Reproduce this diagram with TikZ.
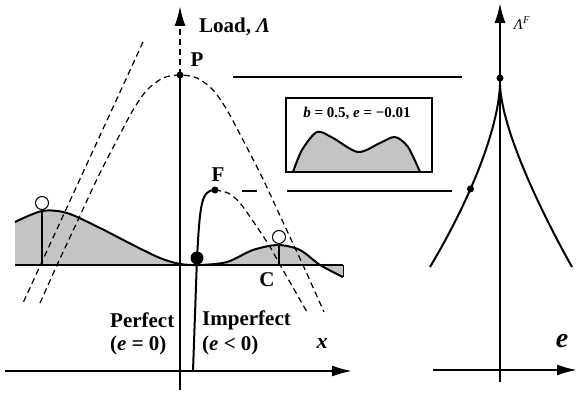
\documentclass[tikz,border=0pt]{standalone}
\usepackage{fontspec}
\setmainfont{Liberation Serif}
\usetikzlibrary{arrows.meta}

\tikzset{
  axis/.style={line width=2pt, -{Latex[length=20pt,width=11pt]}},
  curve/.style={line width=2pt},
  guide/.style={line width=1.2pt, dash pattern=on 6pt off 4pt},
  ball/.style={circle, draw, line width=1pt, fill=white, minimum size=13pt, inner sep=0pt},
  dot/.style={circle, fill, minimum size=7pt, inner sep=0pt},
  lbl/.style={font=\fontsize{21}{25}\selectfont\bfseries, inner sep=0pt},
}

\begin{document}
\begin{tikzpicture}[x=1pt, y=-1pt]
  \useasboundingbox (0,0) rectangle (578,393);
  \fill[black!23] (15,265) -- plot[smooth] coordinates {(15,222) (42,211) (67,213) (100,228) (133,245) (160,258) (180,264) (200,265) (227,262) (253,250) (278,245) (300,250) (320,265) (343,277)} -- (343,265) -- cycle;
  \draw[curve] plot[smooth] coordinates {(15,222) (42,211) (67,213) (100,228) (133,245) (160,258) (180,264) (200,265) (227,262) (253,250) (278,245) (300,250) (320,265) (343,277)};
  \draw[curve] (15,265) -- (343,265);
  \draw[line width=1pt] (343,265) -- (343,277);
  \node[ball] (ballL) at (42,203) {};
  \node[ball] (ballC) at (279,237) {};
  \draw[curve] (ballL.south) -- (42,265);
  \draw[curve] (ballC.south) -- (279,265);

  \draw[guide] (143,42) -- (23,303);
  \draw[guide] plot[smooth] coordinates {(40,303) (58,263) (78,220) (98,177) (117,140) (133,110) (147,90) (163,78) (180,75) (197,78) (213,90) (227,110) (243,140) (262,177) (282,220) (302,263) (324,312)};
  \draw[guide] plot[smooth] coordinates {(215,190) (228,193) (240,203) (257,227) (270,247) (283,270) (307,312)};

  \draw[curve] (180,390) -- (180,75);
  \draw[axis, dash pattern=on 6pt off 4pt] (180,75) -- (180,6);
  \draw[axis] (5,371) -- (352,371);
  \draw[curve] (193,371) -- (197,258) .. controls (200,205) and (201,190) .. (215,190);
  \node[circle, fill, minimum size=13pt, inner sep=0pt] (eq) at (197,258) {};
  \node[dot] (P) at (180,75) {};
  \node[dot] (F) at (215,190) {};

  \draw[line width=1.3pt] (233,77) -- (462,77);
  \draw[line width=1.3pt] (242,191) -- (257,191) (287,191) -- (452,191);

  \fill[black!23] (293,172) -- plot[smooth] coordinates {(293,172) (302,150) (317,132) (333,138) (358,152) (380,143) (395,137) (408,147) (420,172)} -- cycle;
  \draw[curve] plot[smooth] coordinates {(293,172) (302,150) (317,132) (333,138) (358,152) (380,143) (395,137) (408,147) (420,172)};
  \draw[line width=1.2pt] (286,98) rectangle (432,172);
  \node[font=\fontsize{15}{18}\selectfont\bfseries, inner sep=0pt] (inset) at (357,113) {\textit{b} = 0.5, \textit{e} = −0.01};

  \draw[axis] (500,382) -- (500,3);
  \draw[axis] (433,370) -- (577,370);
  \draw[curve] (430,267) .. controls (470,200) and (498,130) .. (500,85) coordinate[pos=0.39] (eF);
  \draw[curve] (572,267) .. controls (540,210) and (502,130) .. (500,85);
  \node[dot] (PF) at (500,78) {};
  \node[dot] (FF) at (eF) {};

  \node[lbl, anchor=west] (load) at (199,27) {Load, \textit{Λ}};
  \node[lbl] (Plbl) at (197,60) {P};
  \node[lbl] (Flbl) at (218,175) {F};
  \node[lbl] (Clbl) at (267,280) {C};
  \node[lbl, anchor=west] (perf) at (110,320) {Perfect};
  \node[lbl, anchor=west] (perfe) at (110,345) {(\textit{e} = 0)};
  \node[lbl, anchor=west] (imp) at (202,320) {Imperfect};
  \node[lbl, anchor=west] (impe) at (202,345) {(\textit{e} < 0)};
  \node[lbl, font=\fontsize{22}{26}\selectfont\bfseries] (xlbl) at (322,343) {\textit{x}};
  \node[font=\fontsize{15}{18}\selectfont, inner sep=0pt] (LF) at (522,23) {\textit{Λ}\textsuperscript{\textit{F}}};
  \node[lbl, font=\fontsize{28}{32}\selectfont\bfseries] (elbl) at (562,341) {\textit{e}};
\end{tikzpicture}
\end{document}
